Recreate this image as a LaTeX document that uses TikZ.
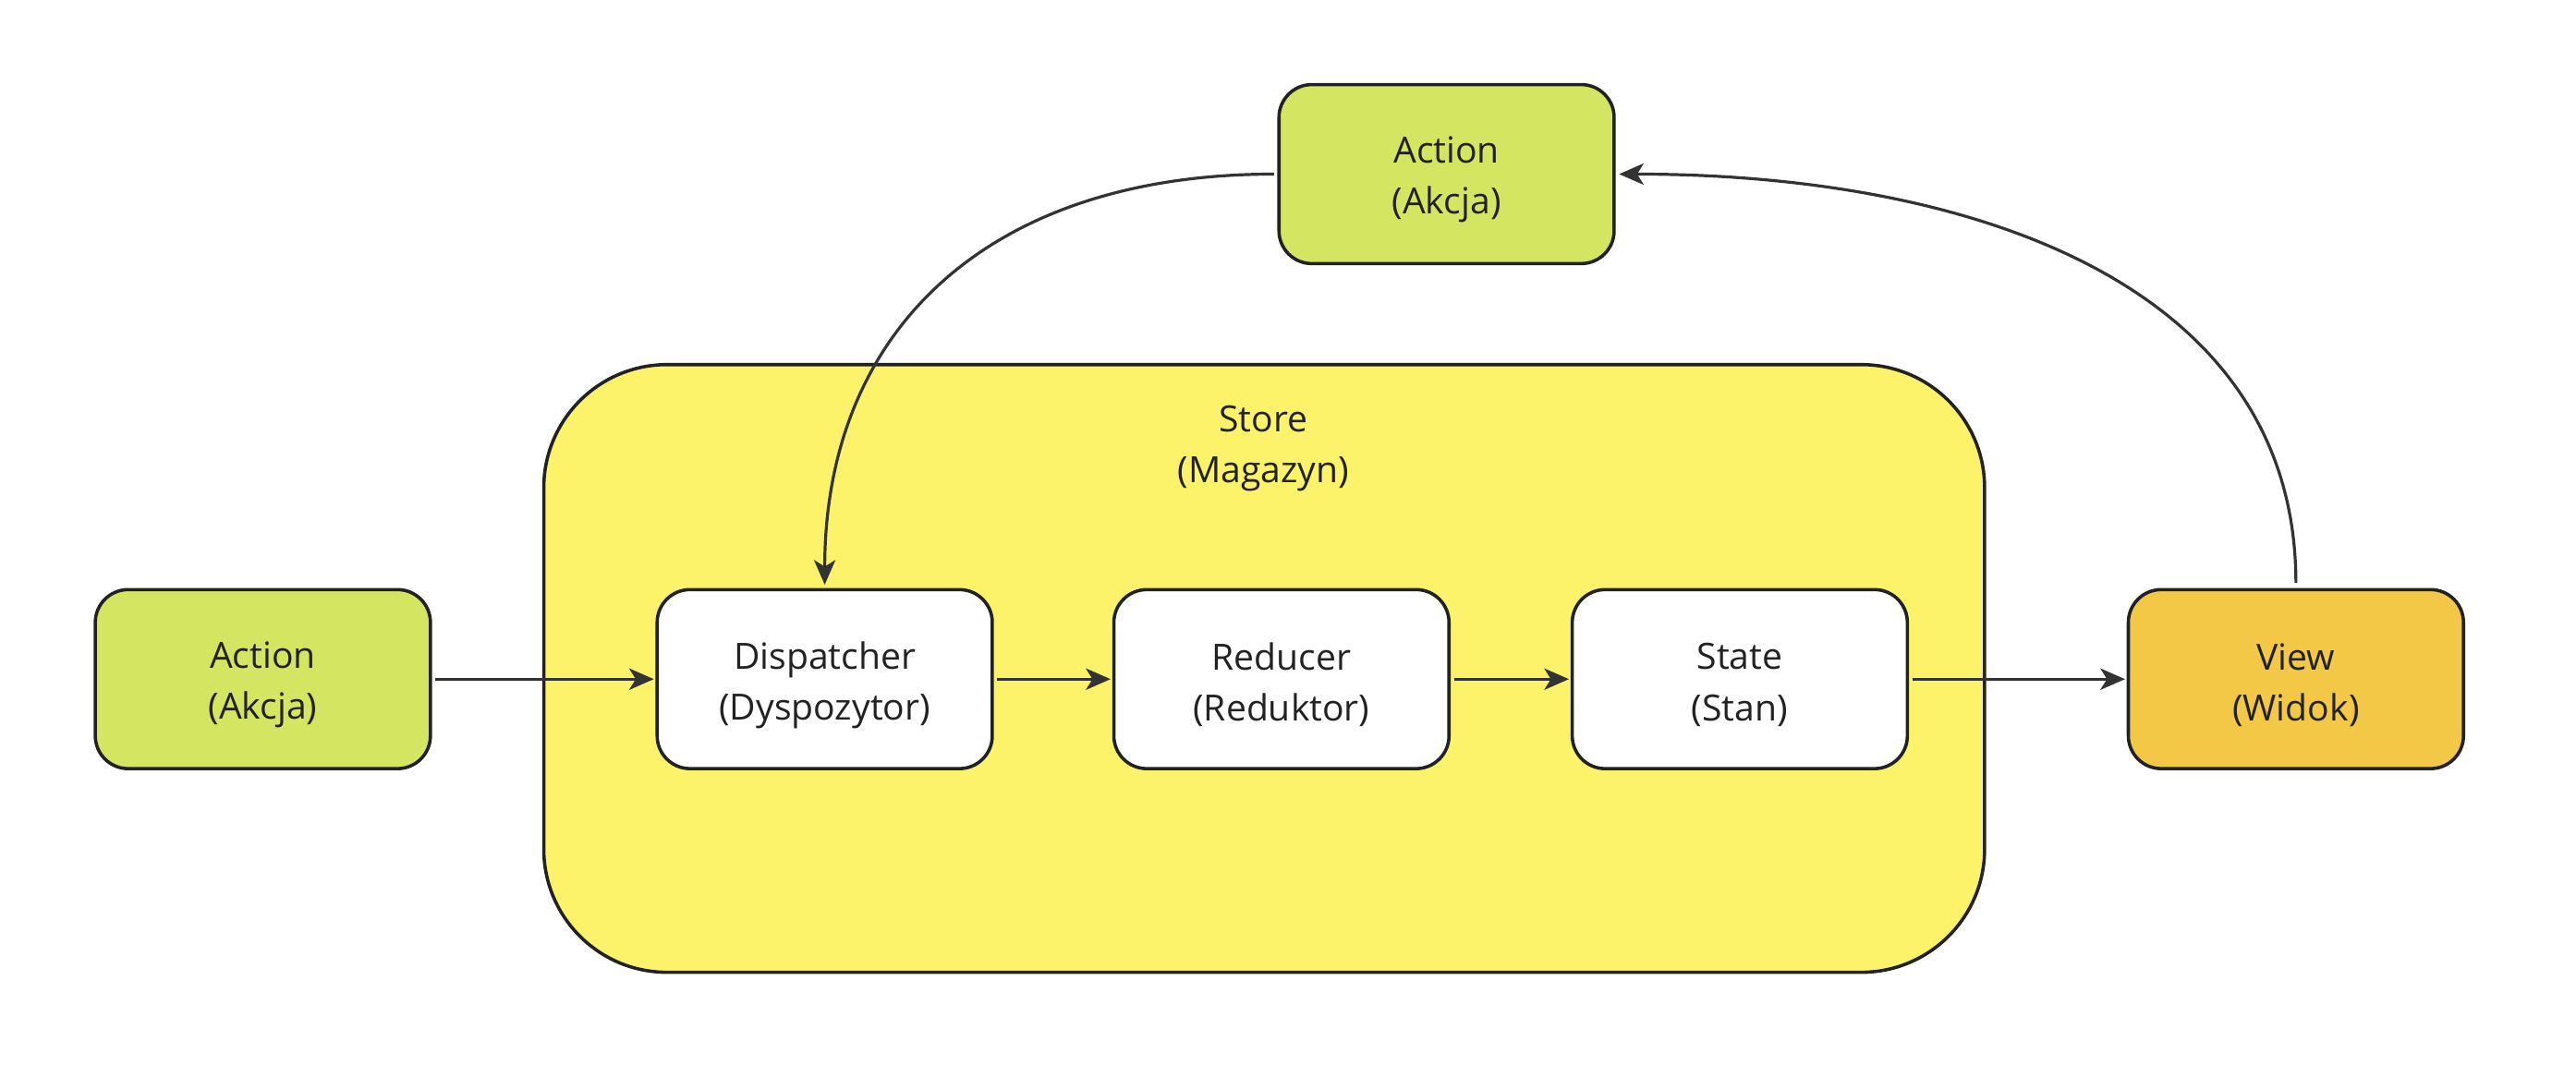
\documentclass[tikz,border=0pt]{standalone}
\usepackage{fontspec}
\setmainfont{Open Sans}
\usetikzlibrary{arrows.meta}
\definecolor{actgreen}{RGB}{212,230,97}
\definecolor{storeyellow}{RGB}{253,243,106}
\definecolor{viewgold}{RGB}{242,200,70}
\definecolor{ink}{RGB}{34,34,34}
\definecolor{lineink}{RGB}{51,51,51}
\begin{document}
\begin{tikzpicture}[x=1pt,y=-1pt,
  box/.style={draw=ink,line width=2pt,rounded corners=20pt,minimum width=204pt,minimum height=109pt,inner sep=0pt},
  txt/.style={align=center,text=ink,font=\fontsize{22}{31}\selectfont,inner sep=0pt},
  boxtext/.style={label={[txt,yshift=-3.5pt]center:#1}},
  conn/.style={draw=lineink,line width=1.8pt,-{Stealth[length=15pt,width=13pt,inset=4pt]}}]
\useasboundingbox (0,0) rectangle (1568,648);
\node[draw=ink,line width=2pt,fill=storeyellow,rounded corners=75pt,minimum width=877pt,minimum height=370pt,inner sep=0pt] (store) at (769.5,407) {};
\node[txt] (storelabel) at (769,273) {Store\\(Magazyn)};
\node[box,fill=actgreen,boxtext={Action\\(Akcja)}] (topaction) at (880.5,106) {};
\node[box,fill=actgreen,boxtext={Action\\(Akcja)}] (leftaction) at (160,413.5) {};
\node[box,fill=white,boxtext={Dispatcher\\(Dyspozytor)}] (dispatcher) at (502,413.5) {};
\node[box,fill=white,boxtext={Reducer\\(Reduktor)}] (reducer) at (780,413.5) {};
\node[box,fill=white,boxtext={State\\(Stan)}] (state) at (1059,413.5) {};
\node[box,fill=viewgold,boxtext={View\\(Widok)}] (view) at (1397.5,413.5) {};
\draw[conn,shorten <=2pt,shorten >=1pt] (leftaction.east) -- (dispatcher.west);
\draw[conn,shorten <=2pt,shorten >=1pt] (dispatcher.east) -- (reducer.west);
\draw[conn,shorten <=2pt,shorten >=1pt] (reducer.east) -- (state.west);
\draw[conn,shorten <=2pt,shorten >=1pt] (state.east) -- (view.west);
\draw[conn,shorten <=2pt,shorten >=2pt] (topaction.west) .. controls +(-176,0) and +(0,-157) .. (dispatcher.north);
\draw[conn,shorten <=3pt,shorten >=2pt] (view.north) .. controls +(0,-186) and +(215,0) .. (topaction.east);
\end{tikzpicture}
\end{document}
